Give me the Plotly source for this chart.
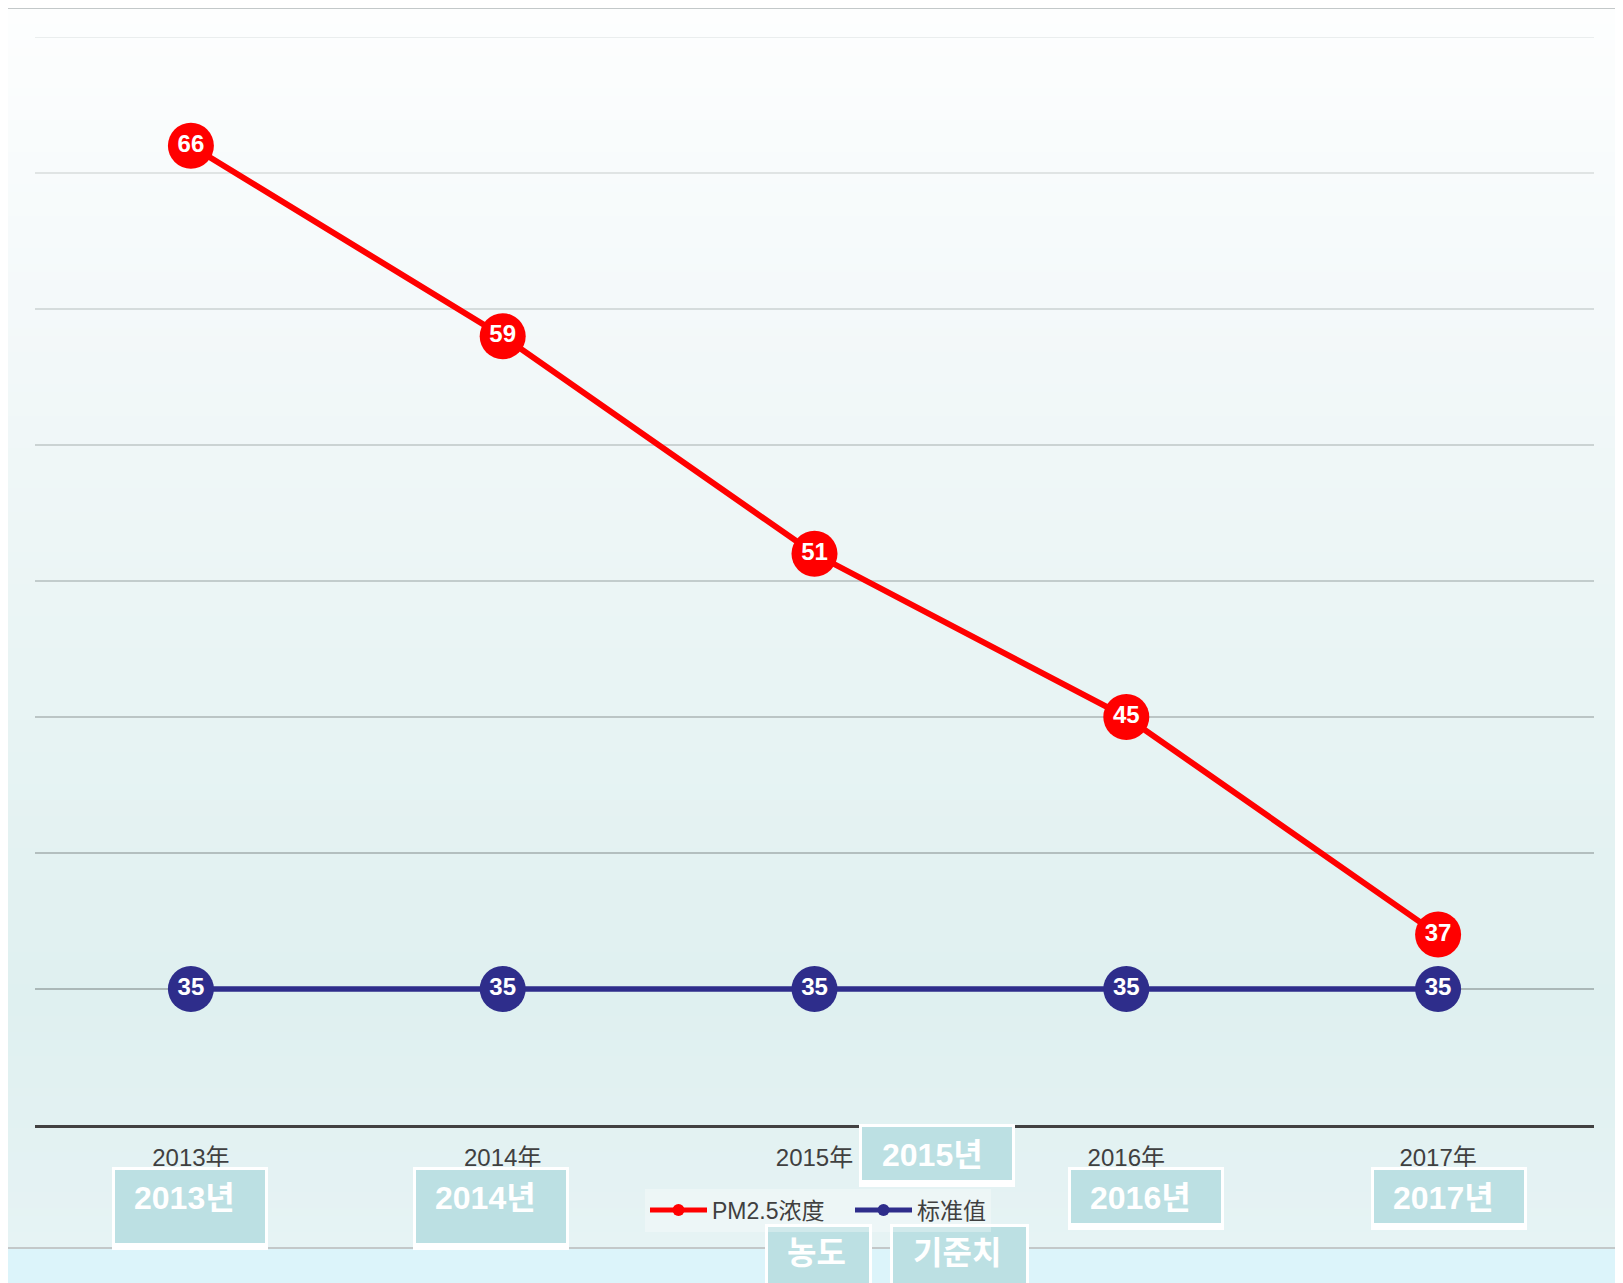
import plotly.graph_objects as go

# ---------------- data ----------------
years = ["2013年", "2014年", "2015年", "2016年", "2017年"]
pm25 = [66, 59, 51, 45, 37]
standard = [35, 35, 35, 35, 35]
series_names = ["PM2.5浓度", "标准值"]
grid_vals = [35, 40, 45, 50, 55, 60, 65, 70]
y_range = [30, 70]

# translated overlay labels (Korean)
overlay_texts = ["2013년", "2014년", "2015년", "2016년", "2017년", "농도", "기준치"]

# ---------------- layout geometry (screen px; the page body adds an 8px offset) ----------------
SW, SH = 1623, 1283
OFF = 8
FW, FH = SW - OFF, SH - OFF
L, R, T, B = 35, 1594, 37, 1125
W, H = R - L, B - T


def px(x):
    return (x - L) / W


def py(y):
    return (B - y) / H


RED = "#ff0000"
NAVY = "#2e2d8b"
FONT = "Liberation Sans, Arial, Noto Sans CJK SC"
KFONT = "Liberation Sans, Arial, Noto Sans CJK KR"

fig = go.Figure()

fig.add_trace(go.Scatter(
    x=years, y=pm25, name=series_names[0], mode="lines+markers",
    line=dict(color=RED, width=6),
    marker=dict(color=RED, size=46),
    legendwidth=133,
))
fig.add_trace(go.Scatter(
    x=years, y=standard, name=series_names[1], mode="lines+markers",
    line=dict(color=NAVY, width=5.5),
    marker=dict(color=NAVY, size=46),
))
for vals in (pm25, standard):
    fig.add_trace(go.Scatter(
        x=years, y=vals, mode="text", text=[str(v) for v in vals],
        textposition="middle center", showlegend=False, hoverinfo="skip",
        textfont=dict(color="white", size=24, family=FONT, weight="bold"),
    ))

shapes = []


def hex2rgb(h):
    h = h.lstrip("#")
    return tuple(int(h[i:i + 2], 16) for i in (0, 2, 4))


def interp(stops, y):
    for (y0, c0), (y1, c1) in zip(stops, stops[1:]):
        if y0 <= y <= y1:
            t = (y - y0) / (y1 - y0)
            a, b = hex2rgb(c0), hex2rgb(c1)
            return "rgb(%d,%d,%d)" % tuple(round(a[i] + (b[i] - a[i]) * t) for i in range(3))
    return stops[-1][1]


# panel gradient background
P_L, P_T, P_R, P_B = 5, 8, 1621, 1248
stops = [(8, "#fdfefe"), (300, "#f4f9fa"), (600, "#ebf5f5"), (1000, "#dff0f0"), (1248, "#e6f3f4")]
step = 8
yy = P_T
while yy < P_B:
    y2 = min(yy + step, P_B)
    shapes.append(dict(type="rect", xref="paper", yref="paper", layer="below",
                       x0=px(P_L), x1=px(P_R), y0=py(y2), y1=py(yy),
                       fillcolor=interp(stops, (yy + y2) / 2), line=dict(width=0)))
    yy = y2
shapes.append(dict(type="rect", xref="paper", yref="paper", layer="below",
                   x0=px(P_L), x1=px(P_R), y0=py(P_B), y1=py(P_T),
                   line=dict(color="#c3c8c9", width=2), fillcolor="rgba(0,0,0,0)"))

# gridlines (lighter near the top)
gstops = [(0, "#e4e8e8"), (0.5, "#b9c2c2"), (1, "#9aa6a6")]
for v in grid_vals:
    f = (y_range[1] - v) / (y_range[1] - y_range[0] - 5)
    shapes.append(dict(type="line", xref="paper", yref="y", layer="below",
                       x0=0, x1=1, y0=v, y1=v,
                       line=dict(color=interp(gstops, min(f, 1)), width=1.3)))

# overlay boxes: (outer box px x0, x1, y0, y1, text left x, text center y)
boxes = [
    (112, 268, 1167, 1250, 132, 1198),
    (413, 569, 1167, 1250, 433, 1198),
    (859, 1015, 1124, 1187, 880, 1155),
    (1068, 1224, 1167, 1230, 1088, 1198),
    (1371, 1527, 1167, 1230, 1391, 1198),
    (765, 872, 1224, 1295, 785, 1253),
    (890, 1029, 1224, 1295, 911, 1253),
]
annotations = []
for (x0, x1, y0, y1, tx, ty), txt in zip(boxes, overlay_texts):
    shapes.append(dict(type="rect", xref="paper", yref="paper", layer="above",
                       x0=px(x0), x1=px(x1), y0=py(y1), y1=py(y0),
                       fillcolor="white", line=dict(width=0)))
    shapes.append(dict(type="rect", xref="paper", yref="paper", layer="above",
                       x0=px(x0 + 3), x1=px(x1 - 3), y0=py(y1 - 7), y1=py(y0 + 3),
                       fillcolor="#bce0e3", line=dict(width=0)))
    annotations.append(dict(xref="paper", yref="paper", x=px(tx), y=py(ty),
                            xanchor="left", yanchor="middle", showarrow=False,
                            text=txt, font=dict(color="white", size=32, family=KFONT, weight="bold")))

fig.update_layout(
    width=FW, height=FH,
    margin=dict(l=L - OFF, r=SW - R, t=T - OFF, b=SH - B, pad=0),
    paper_bgcolor="#dcf4fa",
    plot_bgcolor="rgba(0,0,0,0)",
    shapes=shapes,
    annotations=annotations,
    showlegend=True,
    legend=dict(orientation="h", x=px(645), xanchor="left", y=py(1210), yanchor="middle",
                font=dict(size=23, color="#404040", family=FONT),
                bgcolor="rgba(255,255,255,0.3)", itemsizing="constant",
                itemwidth=57, tracegroupgap=0),
    xaxis=dict(type="category", range=[-0.5, 4.5], showgrid=False, zeroline=False,
               showline=True, linecolor="#424242", linewidth=3,
               ticks="", ticklabelstandoff=9,
               tickfont=dict(size=24, color="#404040", family=FONT)),
    yaxis=dict(range=y_range, showgrid=False, zeroline=False, showline=False,
               showticklabels=False, ticks=""),
)

fig.write_html("out.html")
